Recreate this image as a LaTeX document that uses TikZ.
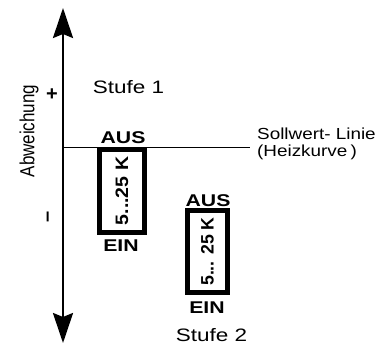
\documentclass[tikz,border=0pt]{standalone}
\usepackage{fontspec}
\setmainfont{Liberation Sans}
\usetikzlibrary{arrows.meta}
\newcommand{\wide}[1]{\scalebox{1.25}[1]{#1}}
\tikzset{
  x=1pt, y=-1pt,
  lbl/.style={inner sep=0pt, font=\fontsize{18}{20}\selectfont},
  swl/.style={inner sep=0pt, anchor=west, font=\fontsize{16}{18}\selectfont},
  onoff/.style={inner sep=0pt, font=\fontsize{17}{19}\selectfont\bfseries},
  rangetxt/.style={inner sep=0pt, rotate=90, font=\fontsize{15}{17}\selectfont\bfseries},
  sign/.style={inner sep=0pt, font=\fontsize{20}{22}\selectfont\bfseries},
  hyst/.style={draw, line width=5pt},
  axisarrow/.style={line width=2.5pt, -{Stealth[length=30pt, width=20pt, inset=4pt]}},
}
\begin{document}
\begin{tikzpicture}
\useasboundingbox (0,0) rectangle (383,345);
\coordinate (o) at (63,176);
\coordinate (top) at (63,8);
\coordinate (bot) at (63,343);
\coordinate (s0) at (63,147.5);
\coordinate (s1) at (250,147.5);
\draw[axisarrow] (o) -- (top);
\draw[axisarrow] (o) -- (bot);
\draw[line width=1.5pt] (s0) -- (s1);
\node[inner sep=0pt, rotate=90, font=\fontsize{17}{19}\selectfont] (abw) at (29,131) {\scalebox{1}[1.2]{Abweichung}};
\node[sign] (plus) at (52,95) {+};
\node[sign, rotate=90] (minus) at (50,217) {–};
\node[lbl] (st1) at (128.5,87) {\wide{Stufe 1}};
\node[lbl] (st2) at (211.5,335.5) {\wide{Stufe 2}};
\node[swl] (sw) at (257,133.5) {\scalebox{1.18}[1]{Sollwert- Linie}};
\node[swl] (hk) at (257,152) {\scalebox{1.18}[1]{(Heizkurve\,)}};
\draw[hyst] (99.5,149.5) rectangle (144.5,232.5);
\draw[hyst] (187.5,210.5) rectangle (227.5,292.5);
\node[rangetxt] (r1) at (122,191) {\scalebox{1.3}[1.2]{5...25 K}};
\node[rangetxt] (r2) at (207.5,251.5) {\scalebox{1.18}[1.2]{5... 25 K}};
\node[onoff] (aus1) at (123,137.5) {\wide{AUS}};
\node[onoff] (ein1) at (121,246) {\wide{EIN}};
\node[onoff] (aus2) at (208,200.5) {\wide{AUS}};
\node[onoff] (ein2) at (207,307.5) {\wide{EIN}};
\end{tikzpicture}
\end{document}
